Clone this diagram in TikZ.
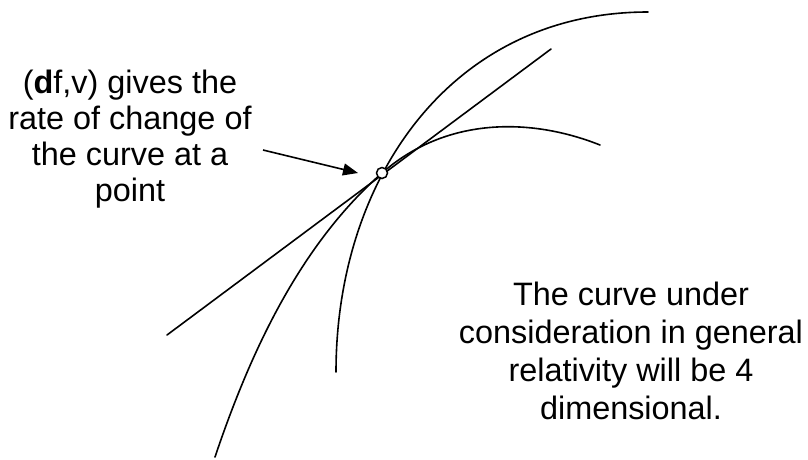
\documentclass[tikz,border=0pt]{standalone}
\usepackage{fontspec}
\setmainfont{Liberation Sans}
\usetikzlibrary{arrows.meta}
\begin{document}
\begin{tikzpicture}[x=1pt,y=-1pt,
  curve/.style={line width=1.6pt, line cap=round},
  lbl/.style={align=center, inner sep=0pt, anchor=north, font=\fontsize{32.4}{36}\selectfont},
  dot/.style={circle, draw, line width=1.5pt, fill=white, minimum size=11pt, inner sep=0pt}]
\useasboundingbox (0,0) rectangle (808,459);
\coordinate (P) at (382,173);
\coordinate (A0) at (215,457);
\coordinate (A3) at (600,145);
\coordinate (B0) at (336,372);
\coordinate (B3) at (648,12);
\coordinate (L0) at (167,335);
\coordinate (L1) at (551,49);
\coordinate (T0) at (263,150);
\coordinate (T1) at (358,173);
% straight tangent line
\draw[curve] (L0) -- (L1);
% steep curve
\draw[curve] (B0) .. controls (336,180) and (450,12) .. (B3);
% other curve through the point
\draw[curve] (A0) .. controls (250.2,352.5) and (299.5,245.6) .. (P)
  .. controls (445.8,116.9) and (530.3,117.3) .. (A3);
% the point
\node[dot] (pt) at (P) {};
% arrow
\draw[curve, line cap=butt, -{Triangle[length=15pt,width=12pt]}] (T0) -- (T1);
% texts
\node[lbl] (left) at (130,69.4) {(\textbf{d}f,v) gives the\\rate of change of\\the curve at a\\point};
\node[lbl, font=\fontsize{32.4}{38}\selectfont] (right) at (631,281.8) {The curve under\\consideration in general\\relativity will be 4\\dimensional.};
\end{tikzpicture}
\end{document}
